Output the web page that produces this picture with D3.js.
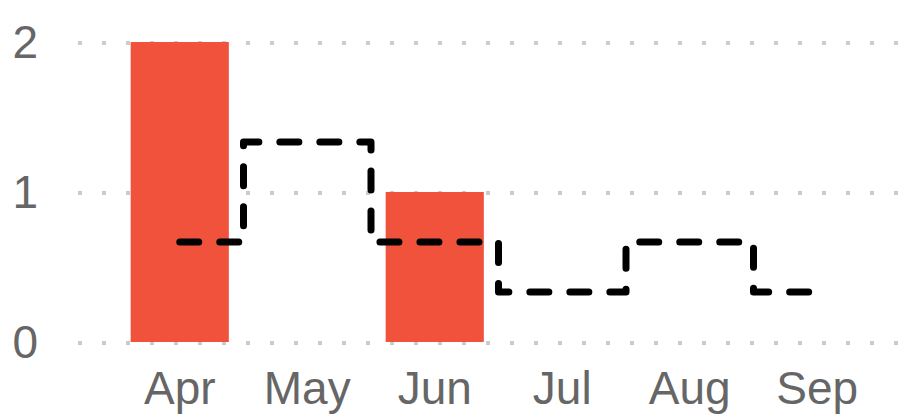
<!DOCTYPE html>
<html>
  <head>
    <script src="https://d3js.org/d3.v7.min.js"></script>
    <style>
      body { margin: 0; background: #fff; }
      text { font-family: "Liberation Sans", Arial, sans-serif; fill: #666; }
    </style>
  </head>
  <body>
    <svg width="914" height="414"></svg>
    <script>
      // Chart data
      const months = ["Apr", "May", "Jun", "Jul", "Aug", "Sep"];
      const barValues = [2, 0, 1, 0, 0, 0];
      const lineValues = [0.667, 1.333, 0.667, 0.333, 0.667, 0.333];
      const yTicks = [0, 1, 2];

      const svg = d3.select("svg");

      const x = d3.scaleBand()
        .domain(months)
        .range([116, 881])
        .paddingInner(0.23)
        .paddingOuter(0.115);

      const y = d3.scaleLinear().domain([0, 2]).range([342, 42]);

      // Dotted gridlines
      svg.append("g")
        .selectAll("line")
        .data(yTicks)
        .join("line")
        .attr("x1", 78)
        .attr("x2", 902)
        .attr("y1", d => y(d) + 1)
        .attr("y2", d => y(d) + 1)
        .attr("stroke", "#cccccc")
        .attr("stroke-width", 4)
        .attr("stroke-dasharray", "4,20");

      // Y axis labels
      svg.append("g")
        .selectAll("text")
        .data(yTicks)
        .join("text")
        .attr("x", 38)
        .attr("y", d => y(d))
        .attr("text-anchor", "end")
        .attr("dominant-baseline", "central")
        .attr("font-size", 46)
        .text(d => d);

      // X axis labels
      svg.append("g")
        .selectAll("text")
        .data(months)
        .join("text")
        .attr("x", d => x(d) + x.bandwidth() / 2)
        .attr("y", 404)
        .attr("text-anchor", "middle")
        .attr("font-size", 46)
        .text(d => d);

      // Bars
      svg.append("g")
        .selectAll("rect")
        .data(months.map((m, i) => ({ m, v: barValues[i] })).filter(d => d.v > 0))
        .join("rect")
        .attr("x", d => x(d.m))
        .attr("y", d => y(d.v))
        .attr("width", x.bandwidth())
        .attr("height", d => y(0) - y(d.v))
        .attr("fill", "#f0523c");

      // Dashed step line
      const line = d3.line()
        .x((d, i) => x(months[i]) + x.bandwidth() / 2)
        .y(d => y(d))
        .curve(d3.curveStep);

      svg.append("path")
        .datum(lineValues)
        .attr("d", line)
        .attr("fill", "none")
        .attr("stroke", "#000")
        .attr("stroke-width", 7)
        .attr("stroke-linecap", "round")
        .attr("stroke-linejoin", "round")
        .attr("stroke-dasharray", "19,21");
    </script>
  </body>
</html>
